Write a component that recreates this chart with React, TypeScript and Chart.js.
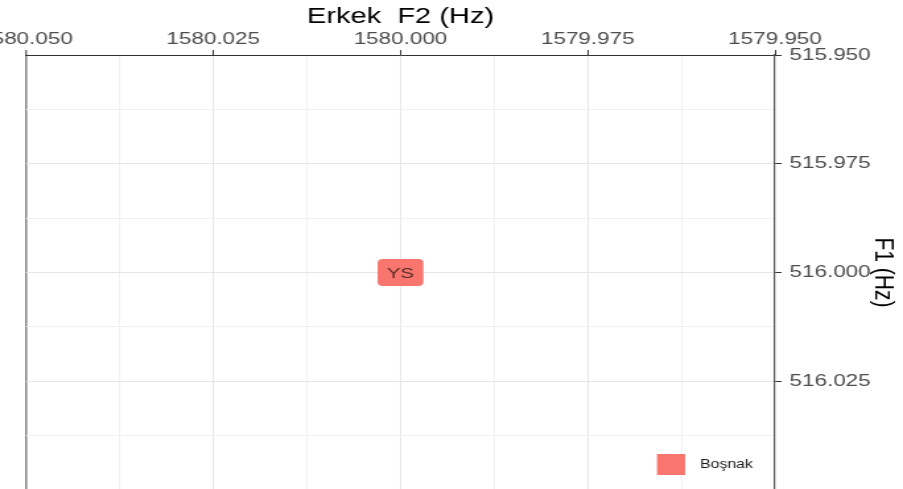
import React, { useEffect, useRef } from 'react';
import { Chart, registerables } from 'chart.js';

Chart.register(...registerables);

// ---- data ----
const groups = ['Boşnak'];
const groupColors = ['#F8766D'];
const vowelLabels = ['YS'];
const f2Values = [1580.0];
const f1Values = [516.0];
const xMajorTicks = [1580.05, 1580.025, 1580.0, 1579.975, 1579.95];
const yMajorTicks = [515.95, 515.975, 516.0, 516.025];
const xRange = [1579.95, 1580.05];
const yRange = [515.95, 516.05];
const xTitle = 'Erkek  F2 (Hz)';
const yTitle = 'F1 (Hz)';

// ---- layout constants ----
const PAGE_W = 903;
const CANVAS_W = 684;
const CANVAS_H = 490;
const S = PAGE_W / CANVAS_W;
const FAMILY = '"Liberation Sans", Arial, Helvetica, sans-serif';

const withMinors = (majors: number[]) => {
  const s = [...majors].sort((a, b) => a - b);
  const out: number[] = [];
  for (let i = 0; i < s.length; i++) {
    out.push(s[i]);
    if (i < s.length - 1) out.push((s[i] + s[i + 1]) / 2);
  }
  return out;
};
const near = (a: number, b: number) => Math.abs(a - b) < 1e-7;
const isMajor = (v: number, majors: number[]) => majors.some((m) => near(m, v));

const xTicks = withMinors(xMajorTicks);
const yTicks = withMinors([...yMajorTicks, yRange[1]]);

const roundRect = (ctx: CanvasRenderingContext2D, x: number, y: number, w: number, h: number, r: number) => {
  ctx.beginPath();
  ctx.moveTo(x + r, y);
  ctx.lineTo(x + w - r, y);
  ctx.quadraticCurveTo(x + w, y, x + w, y + r);
  ctx.lineTo(x + w, y + h - r);
  ctx.quadraticCurveTo(x + w, y + h, x + w - r, y + h);
  ctx.lineTo(x + r, y + h);
  ctx.quadraticCurveTo(x, y + h, x, y + h - r);
  ctx.lineTo(x, y + r);
  ctx.quadraticCurveTo(x, y, x + r, y);
  ctx.closePath();
};

const labelPlugin = {
  id: 'vowelLabels',
  afterDatasetsDraw(chart: any) {
    const ctx: CanvasRenderingContext2D = chart.ctx;
    chart.data.datasets.forEach((ds: any, di: number) => {
      const meta = chart.getDatasetMeta(di);
      meta.data.forEach((el: any, i: number) => {
        const text = ds.labelsText[i];
        ctx.save();
        ctx.font = `15.5px ${FAMILY}`;
        const tw = ctx.measureText(text).width;
        const w = tw + 14;
        const h = 27;
        roundRect(ctx, el.x - w / 2, el.y - h / 2, w, h, 4);
        ctx.fillStyle = ds.backgroundColor;
        ctx.fill();
        ctx.fillStyle = '#5a2b28';
        ctx.textAlign = 'center';
        ctx.textBaseline = 'middle';
        ctx.fillText(text, el.x, el.y + 1);
        ctx.restore();
      });
    });
  },
};

const legendPlugin = {
  id: 'innerLegend',
  afterDraw(chart: any) {
    const ctx: CanvasRenderingContext2D = chart.ctx;
    const { right, bottom } = chart.chartArea;
    groups.forEach((g, i) => {
      const sqX = right - 89.4;
      const sqY = bottom - 36 - i * 24;
      ctx.save();
      ctx.fillStyle = groupColors[i];
      ctx.fillRect(sqX, sqY, 21.3, 21);
      ctx.fillStyle = '#1a1a1a';
      ctx.font = `12px ${FAMILY}`;
      ctx.textAlign = 'left';
      ctx.textBaseline = 'middle';
      ctx.fillText(g, right - 56.8, sqY + 11);
      ctx.restore();
    });
  },
};

export default function App() {
  const ref = useRef<HTMLCanvasElement | null>(null);

  useEffect(() => {
    if (!ref.current) return;
    const chart = new Chart(ref.current, {
      type: 'scatter',
      data: {
        datasets: groups.map((g, gi) => ({
          label: g,
          data: f2Values.map((x, i) => ({ x, y: f1Values[i] })),
          labelsText: vowelLabels,
          backgroundColor: groupColors[gi],
          pointRadius: 0,
          pointHoverRadius: 0,
        })) as any,
      },
      options: {
        responsive: false,
        animation: false,
        devicePixelRatio: 1,
        events: [],
        layout: { padding: { left: 26 / S, right: 0, top: 0, bottom: 0 } },
        plugins: { legend: { display: false }, tooltip: { enabled: false } },
        scales: {
          x: {
            type: 'linear',
            position: 'top',
            reverse: true,
            min: xRange[0],
            max: xRange[1],
            afterBuildTicks: (s: any) => {
              s.ticks = xTicks.map((v) => ({ value: v }));
            },
            afterFit: (s: any) => {
              s.height = 55;
              s.paddingLeft = 0;
              s.paddingRight = 0;
            },
            ticks: {
              autoSkip: false,
              maxRotation: 0,
              minRotation: 0,
              padding: 0,
              color: '#4d4d4d',
              font: { family: FAMILY, size: 17 },
              callback: (v: any) => (isMajor(Number(v), xMajorTicks) ? Number(v).toFixed(3) : ''),
            },
            grid: {
              drawTicks: true,
              tickLength: 5,
              tickWidth: 1,
              color: (c: any) => {
                const v = c.tick ? c.tick.value : NaN;
                if (near(v, xRange[1])) return '#8a8a8a';
                if (near(v, xRange[0])) return 'rgba(0,0,0,0)';
                return isMajor(v, xMajorTicks) ? '#e6e6e6' : '#f1f1f1';
              },
              lineWidth: (c: any) => {
                const v = c.tick ? c.tick.value : NaN;
                if (near(v, xRange[1])) return 1.6;
                return 1;
              },
              tickColor: (c: any) => {
                const v = c.tick ? c.tick.value : NaN;
                return isMajor(v, xMajorTicks) ? '#333333' : 'rgba(0,0,0,0)';
              },
            },
            border: { display: true, color: '#333333', width: 1 },
            title: {
              display: true,
              text: xTitle,
              color: '#000000',
              font: { family: FAMILY, size: 22 },
              padding: { top: 4, bottom: 0 },
            },
          },
          y: {
            type: 'linear',
            position: 'right',
            reverse: true,
            min: yRange[0],
            max: yRange[1],
            afterBuildTicks: (s: any) => {
              s.ticks = yTicks.map((v) => ({ value: v }));
            },
            afterFit: (s: any) => {
              s.width = CANVAS_W - 775 / S;
              s.paddingTop = 0;
              s.paddingBottom = 0;
            },
            ticks: {
              autoSkip: false,
              padding: 6,
              color: '#4d4d4d',
              font: { family: FAMILY, size: 17 },
              callback: (v: any) => (isMajor(Number(v), yMajorTicks) ? Number(v).toFixed(3) : ''),
            },
            grid: {
              drawTicks: true,
              tickLength: 5,
              tickWidth: 1,
              color: (c: any) => {
                const v = c.tick ? c.tick.value : NaN;
                if (near(v, yRange[0])) return 'rgba(0,0,0,0)';
                return isMajor(v, yMajorTicks) ? '#e6e6e6' : '#f1f1f1';
              },
              lineWidth: 1,
              tickColor: (c: any) => {
                const v = c.tick ? c.tick.value : NaN;
                return isMajor(v, yMajorTicks) ? '#333333' : 'rgba(0,0,0,0)';
              },
            },
            border: { display: true, color: '#555555', width: 1.2 },
            title: {
              display: true,
              text: yTitle,
              color: '#000000',
              font: { family: FAMILY, size: 21 },
              padding: { top: 2.4, bottom: 0 },
            },
          },
        },
      } as any,
      plugins: [labelPlugin, legendPlugin],
    });
    return () => chart.destroy();
  }, []);

  return (
    <div
      style={{
        position: 'fixed',
        left: 0,
        top: 0,
        width: PAGE_W,
        height: 489,
        overflow: 'hidden',
        background: '#ffffff',
      }}
    >
      <canvas
        ref={ref}
        width={CANVAS_W}
        height={CANVAS_H}
        style={{ width: `${PAGE_W}px`, height: `${CANVAS_H}px`, display: 'block' }}
      />
    </div>
  );
}
